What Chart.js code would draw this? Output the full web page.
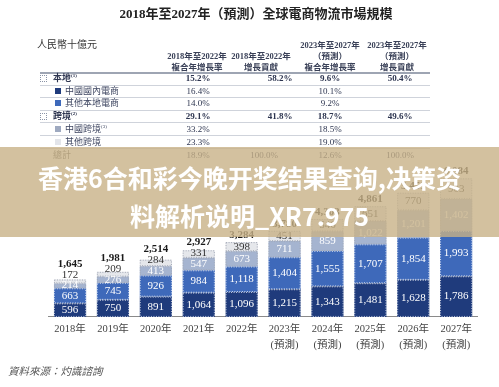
<!DOCTYPE html>
<html><head><meta charset="utf-8">
<script src="https://cdn.jsdelivr.net/npm/chart.js@4.4.1/dist/chart.umd.min.js"></script>
<style>
html,body{margin:0;padding:0;background:#fff;}
body{width:499px;height:387px;overflow:hidden;position:relative;font-family:'Liberation Serif','Noto Sans CJK TC',serif;color:#2d3445;}
.t{position:absolute;white-space:nowrap;transform:translate(-50%,-50%);line-height:1;}
.l{position:absolute;white-space:nowrap;transform:translate(0,-50%);line-height:1;}
#cv{position:absolute;left:0;top:0;}
#banner{position:absolute;left:0;top:147px;width:499px;height:90px;background:rgba(200,178,135,0.8);z-index:5;}
.bt{position:absolute;left:0;width:499px;text-align:center;font-family:'Noto Sans CJK SC',sans-serif;font-weight:bold;font-size:25px;color:#fff;line-height:1;z-index:6;}
.hl{position:absolute;left:40px;width:390px;height:1px;background:#cfd3db;}
.sq{position:absolute;width:6px;height:6px;}
.dsq{position:absolute;width:5px;height:5px;border:1px dotted #8a93a6;}
sup{font-size:5px;vertical-align:top;position:relative;top:-1px;}
</style></head>
<body>
<canvas id="cv" width="499" height="387"></canvas>
<div id="layer"></div>
<div id="banner"></div>
<div class="bt" style="top:165px;">香港6合和彩今晚开奖结果查询,决策资</div>
<div class="bt" style="top:203px;">料解析说明_XR7.975</div>
<script>
// ---------- data ----------
const years = ['2018年','2019年','2020年','2021年','2022年','2023年','2024年','2025年','2026年','2027年'];
const forecastFlags = [false,false,false,false,false,true,true,true,true,true];
const domesticChina = [596,750,891,1064,1096,1215,1343,1481,1628,1786];
const otherLocal = [663,745,926,984,1118,1404,1555,1707,1854,1993];
const chinaCrossBorder = [214,276,413,547,673,711,859,1022,1201,1402];
const otherCrossBorder = [172,209,284,331,398,451,546,651,770,903];
const totals = [1645,1981,2514,2927,3284,3780,4303,4861,5453,6084];

const rowLabels = ['本地','中國國內電商','其他本地電商','跨境','中國跨境','其他跨境','總計'];
const rowNotes = ['(1)','','','(2)','(3)','',''];
const cagr1822 = ['15.2%','16.4%','14.0%','29.1%','33.2%','23.3%','18.9%'];
const contrib1822 = ['58.2%','','','41.8%','','','100.0%'];
const cagr2327 = ['9.6%','10.1%','9.2%','18.7%','18.5%','19.0%','12.6%'];
const contrib2327 = ['50.4%','','','49.6%','','','100.0%'];

const colors = ['#1f3b7c','#3e69ba','#a5b4d0','#e5e7eb'];

// ---------- static text / table ----------
const layer = document.getElementById('layer');
function put(cls, text, x, y, style){
  const d = document.createElement('div');
  d.className = cls; d.innerHTML = text; d.style.left = x+'px'; d.style.top = y+'px';
  if (style) d.style.cssText += style;
  layer.appendChild(d); return d;
}
put('t','2018年至2027年（預測）全球電商物流市場規模',256,13,'font-size:13px;font-weight:bold;color:#222;');
put('l','人民幣十億元',37,45,'font-size:10px;color:#333;');
const hs = 'font-size:8.5px;font-weight:bold;color:#3a4158;';
put('t','2018年至2022年',197,56,hs); put('t','複合年增長率',197,67,hs);
put('t','2018年至2022年',261,56,hs); put('t','增長貢獻',261,67,hs);
put('t','2023年至2027年',330,45,hs); put('t','（預測）',330,56,hs); put('t','複合年增長率',330,67,hs);
put('t','2023年至2027年',397,45,hs); put('t','（預測）',397,56,hs); put('t','增長貢獻',397,67,hs);
// lines
const hl0 = put('hl','',40,72,'height:2px;background:#9ea5b3;');
[84.5,97,109.5,122,135,148].forEach(y=>{ const d=document.createElement('div'); d.className='hl'; d.style.top=y+'px'; layer.appendChild(d); });
const rowY = [78,90.5,103,116,128.5,141.5,155];
const sqColors = [null,colors[0],colors[1],null,'#9ea9c0','#e3e5ea',null];
rowLabels.forEach((lab,i)=>{
  const y = rowY[i];
  const main = (i===0||i===3);
  if (main){
    const d=document.createElement('div'); d.className='dsq'; d.style.left='40px'; d.style.top=(y-3.5)+'px'; layer.appendChild(d);
    put('l', lab + (rowNotes[i]?'<sup>'+rowNotes[i]+'</sup>':''), 53, y, 'font-size:9px;font-weight:bold;color:#2d3550;');
  } else if (i===6){
    put('l', lab, 53, y, 'font-size:9px;color:#555;');
  } else {
    const d=document.createElement('div'); d.className='sq'; d.style.left='55px'; d.style.top=(y-3)+'px'; d.style.background=sqColors[i]; layer.appendChild(d);
    put('l', lab + (rowNotes[i]?'<sup>'+rowNotes[i]+'</sup>':''), 65, y, 'font-size:9px;color:#3d4560;');
  }
  const vs = 'font-size:9px;color:#2d3550;' + (main?'font-weight:bold;':'');
  put('t', cagr1822[i], 198, y, vs);
  if (contrib1822[i]) put('t', contrib1822[i], i===6?264:280, y, vs);
  put('t', cagr2327[i], 330, y, vs);
  if (contrib2327[i]) put('t', contrib2327[i], 400, y, vs);
});
put('l','資料來源：灼識諮詢',8,372,'font-size:10.5px;font-style:italic;color:#555;');

// ---------- chart ----------
const labels = years.map((y,i)=> forecastFlags[i] ? [y,'(預測)'] : [y]);
const seriesList = [domesticChina, otherLocal, chinaCrossBorder, otherCrossBorder];
const names = ['中國國內電商','其他本地電商','中國跨境','其他跨境'];

const labelPlugin = {
  id:'segLabels',
  afterDatasetsDraw(chart){
    const ctx = chart.ctx;
    ctx.save();
    seriesList.forEach((s,di)=>{
      chart.getDatasetMeta(di).data.forEach(el=>{
        const w = el.width;
        ctx.setLineDash([1,1.5]);
        ctx.lineWidth = 1;
        ctx.strokeStyle = di<2 ? 'rgba(255,255,255,0.75)' : '#a3a9b6';
        ctx.strokeRect(el.x - w/2 + 0.5, el.y + 0.5, w - 1, el.base - el.y - 1);
      });
    });
    ctx.setLineDash([]);
    ctx.textAlign = 'center'; ctx.textBaseline = 'middle';
    years.forEach((yr,i)=>{
      let prev = Infinity, top = 0;
      seriesList.forEach((s,di)=>{
        const el = chart.getDatasetMeta(di).data[i];
        let cy = (el.y + el.base)/2;
        cy = Math.min(cy, prev - 10.5);
        prev = cy; top = el.y;
        ctx.font = '11px "Liberation Serif", serif';
        ctx.fillStyle = di===3 ? '#333' : '#fff';
        ctx.fillText(s[i].toLocaleString('en-US'), el.x, cy);
      });
      const el = chart.getDatasetMeta(3).data[i];
      const ty = Math.min(top - 7, prev - 11);
      ctx.font = 'bold 11px "Liberation Serif", serif';
      ctx.fillStyle = '#1a1a1a';
      ctx.fillText(totals[i].toLocaleString('en-US'), el.x, ty);
    });
    ctx.restore();
  }
};

const chart = new Chart(document.getElementById('cv'), {
  type:'bar',
  data:{
    labels,
    datasets: seriesList.map((s,di)=>({
      label:names[di], data:s, backgroundColor:colors[di], borderWidth:0,
      categoryPercentage:1, barPercentage:0.75
    }))
  },
  options:{
    responsive:false, animation:false,
    layout:{padding:{top:157.5,left:48.6,right:21.4,bottom:29.5}},
    plugins:{legend:{display:false},tooltip:{enabled:false}},
    scales:{
      x:{stacked:true, grid:{display:false, drawTicks:false, tickLength:0}, border:{color:'#8a8a8a',width:1},
         ticks:{color:'#444',padding:4,font:{family:"'Liberation Serif','Noto Sans CJK TC',serif",size:10.5,lineHeight:1.55}}},
      y:{stacked:true, display:false, min:0, max:7000}
    }
  },
  plugins:[labelPlugin]
});
</script>
</body></html>
